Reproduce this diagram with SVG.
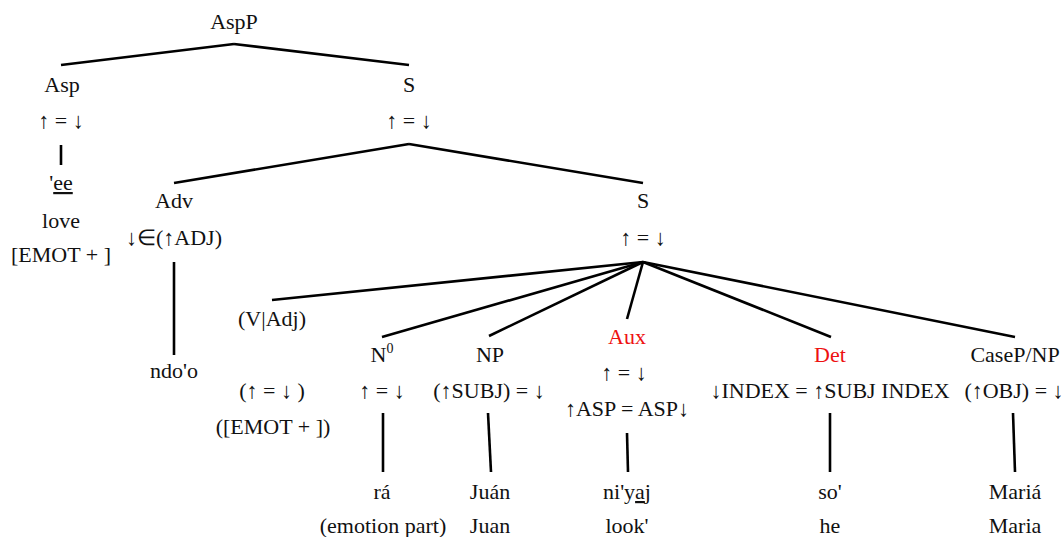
<svg xmlns="http://www.w3.org/2000/svg" width="1064" height="537" viewBox="0 0 1064 537">
  <style>
    text { font-family: "Liberation Serif", "Times New Roman", serif; font-size: 22px; fill: #111; text-anchor: middle; }
    .red { fill: #ee1111; }
    .edge { stroke: #000; stroke-width: 2.6; fill: none; stroke-linecap: butt; }
    .ul { text-decoration: underline; }
  </style>
  <rect width="1064" height="537" fill="#fff"/>

  <!-- tree branches -->
  <g id="connectors">
    <line class="edge" x1="234" y1="44" x2="61" y2="65"/>
    <line class="edge" x1="234" y1="44" x2="409" y2="65"/>
    <line class="edge" x1="61" y1="145" x2="61" y2="165"/>
    <line class="edge" x1="409" y1="144" x2="174" y2="183"/>
    <line class="edge" x1="409" y1="144" x2="643" y2="183"/>
    <line class="edge" x1="174" y1="262" x2="174" y2="355"/>
    <line class="edge" x1="643" y1="262" x2="272" y2="300"/>
    <line class="edge" x1="643" y1="262" x2="382" y2="337"/>
    <line class="edge" x1="643" y1="262" x2="489" y2="336"/>
    <line class="edge" x1="643" y1="262" x2="627" y2="319"/>
    <line class="edge" x1="643" y1="262" x2="831" y2="337"/>
    <line class="edge" x1="643" y1="262" x2="1015" y2="337"/>
    <line class="edge" x1="383" y1="413" x2="383" y2="472"/>
    <line class="edge" x1="488" y1="413" x2="491" y2="472"/>
    <line class="edge" x1="627" y1="433" x2="628" y2="472"/>
    <line class="edge" x1="830" y1="413" x2="830" y2="472"/>
    <line class="edge" x1="1013" y1="413" x2="1015" y2="472"/>
  </g>

  <g id="AspP">
    <text x="234" y="29">AspP</text>
  </g>

  <g id="Asp">
    <text x="62" y="92">Asp</text>
    <text x="61" y="128">↑ = ↓</text>
  </g>

  <g id="ee">
    <text x="61" y="190">'<tspan class="ul">ee</tspan></text>
    <text x="61" y="228">love</text>
    <text x="61" y="262">[EMOT + ]</text>
  </g>

  <g id="S-upper">
    <text x="409" y="92">S</text>
    <text x="409" y="128">↑ = ↓</text>
  </g>

  <g id="Adv">
    <text x="174" y="208">Adv</text>
    <text x="174" y="245">↓∈(↑ADJ)</text>
  </g>

  <g id="ndo-o">
    <text x="174" y="378">ndo'o</text>
  </g>

  <g id="S-lower">
    <text x="643" y="208">S</text>
    <text x="643" y="245">↑ = ↓</text>
  </g>

  <g id="V-Adj">
    <text x="272" y="326">(V|Adj)</text>
    <text x="272" y="398">(↑ = ↓ )</text>
    <text x="273" y="434">([EMOT + ])</text>
  </g>

  <g id="N0">
    <text x="382" y="362">N<tspan font-size="14" dy="-9">0</tspan></text>
    <text x="382" y="398">↑ = ↓</text>
  </g>

  <g id="ra">
    <text x="382" y="499">rá</text>
    <text x="383" y="533">(emotion part)</text>
  </g>

  <g id="NP">
    <text x="490" y="362">NP</text>
    <text x="489" y="398">(↑SUBJ) = ↓</text>
  </g>

  <g id="Juan">
    <text x="490" y="499">Juán</text>
    <text x="490" y="533">Juan</text>
  </g>

  <g id="Aux">
    <text class="red" x="627" y="344">Aux</text>
    <text x="624" y="380">↑ = ↓</text>
    <text x="627" y="416">↑ASP = ASP↓</text>
  </g>

  <g id="niyaj">
    <text x="627" y="499">ni'y<tspan class="ul">a</tspan>j</text>
    <text x="627" y="533">look'</text>
  </g>

  <g id="Det">
    <text class="red" x="830" y="362">Det</text>
    <text x="830" y="398">↓INDEX = ↑SUBJ INDEX</text>
  </g>

  <g id="so">
    <text x="830" y="499">so'</text>
    <text x="830" y="533">he</text>
  </g>

  <g id="CaseP-NP">
    <text x="1015" y="362">CaseP/NP</text>
    <text x="1014" y="398">(↑OBJ) = ↓</text>
  </g>

  <g id="Maria">
    <text x="1015" y="499">Mariá</text>
    <text x="1015" y="533">Maria</text>
  </g>
</svg>
